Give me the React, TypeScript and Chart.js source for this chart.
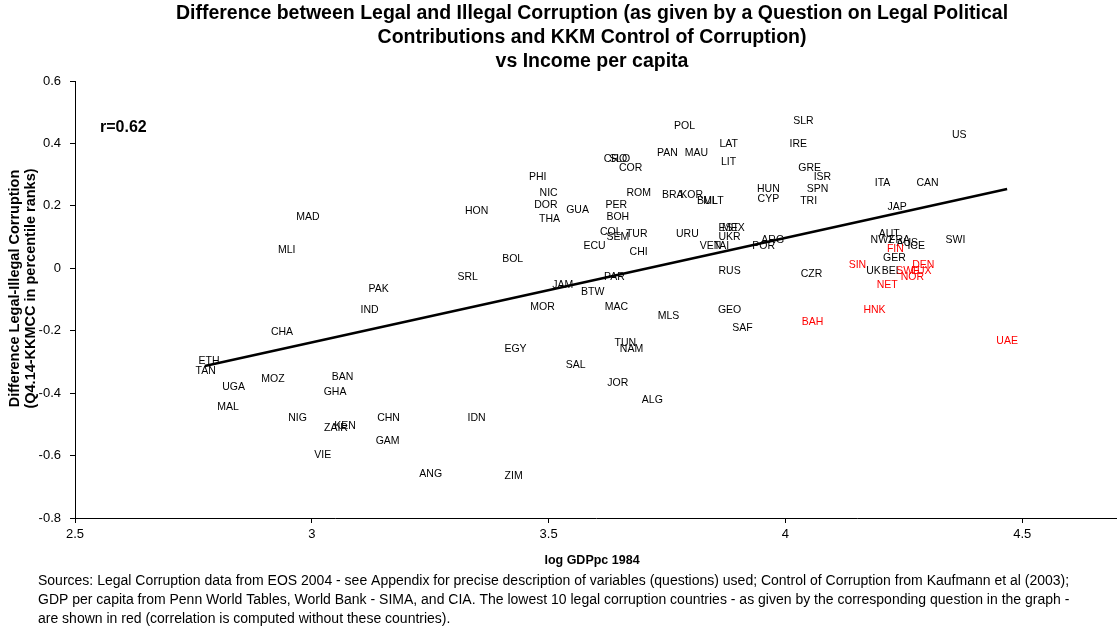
import React, { useEffect, useRef } from "react";
import { Chart, registerables } from "chart.js";

Chart.register(...registerables);

const FONT = "'Liberation Sans', Arial, sans-serif";

// Country codes, log GDP per capita 1984 (x) and Legal-Illegal difference (y)
const countryCodes = [
  "MAD", "MLI", "PHI", "NIC", "DOR", "THA", "HON", "BOL", "SRL", "PAK", "IND", "MOR",
  "POL", "SLR", "LAT", "IRE", "PAN", "MAU", "LIT", "CRO", "SLO", "COR", "GRE", "ISR",
  "HUN", "SPN", "CYP", "TRI", "ROM", "BRA", "KOR", "BUL", "MLT", "EST", "MEX", "PER",
  "GUA", "BOH", "COL", "SEM", "TUR", "URU", "UKR", "ECU", "VEN", "TAI", "CHI", "ARG",
  "POR", "RUS", "CZR", "PAR", "JAM", "BTW", "US", "ITA", "CAN", "JAP", "AUT", "NWZ",
  "FRA", "AUS", "ICE", "SWI", "FIN", "GER", "SIN", "DEN", "UK", "BEL", "SWE", "LUX",
  "NOR", "NET", "HNK", "BAH", "UAE", "ETH", "TAN", "CHA", "EGY", "UGA", "MOZ", "BAN",
  "GHA", "MAL", "NIG", "ZAIR", "KEN", "CHN", "IDN", "GAM", "VIE", "ANG", "ZIM", "MAC",
  "MLS", "GEO", "SAF", "TUN", "NAM", "SAL", "JOR", "ALG",
];

const logGdpPc = [
  2.992, 2.947, 3.477, 3.5, 3.494, 3.502, 3.348, 3.424, 3.329, 3.141, 3.122, 3.487,
  3.787, 4.038, 3.88, 4.027, 3.751, 3.812, 3.88, 3.641, 3.65, 3.673, 4.051, 4.078,
  3.964, 4.068, 3.964, 4.049, 3.69, 3.762, 3.802, 3.835, 3.848, 3.88, 3.89, 3.643,
  3.561, 3.646, 3.631, 3.646, 3.686, 3.793, 3.882, 3.597, 3.842, 3.865, 3.69, 3.973,
  3.954, 3.882, 4.055, 3.639, 3.53, 3.593, 4.367, 4.205, 4.3, 4.236, 4.219, 4.205,
  4.241, 4.257, 4.276, 4.359, 4.232, 4.23, 4.152, 4.291, 4.186, 4.224, 4.259, 4.287,
  4.268, 4.215, 4.188, 4.057, 4.468, 2.783, 2.776, 2.937, 3.43, 2.835, 2.918, 3.065,
  3.049, 2.823, 2.97, 3.051, 3.07, 3.162, 3.348, 3.16, 3.023, 3.251, 3.426, 3.643,
  3.753, 3.882, 3.909, 3.662, 3.675, 3.557, 3.646, 3.719,
];

const legalMinusIllegal = [
  0.164, 0.059, 0.293, 0.241, 0.203, 0.158, 0.184, 0.03, -0.028, -0.066, -0.134, -0.124,
  0.456, 0.472, 0.398, 0.398, 0.369, 0.369, 0.341, 0.35, 0.35, 0.321, 0.321, 0.293,
  0.254, 0.254, 0.222, 0.216, 0.241, 0.235, 0.235, 0.216, 0.216, 0.129, 0.129, 0.203,
  0.187, 0.164, 0.116, 0.1, 0.11, 0.11, 0.1, 0.071, 0.071, 0.071, 0.052, 0.091,
  0.071, -0.009, -0.018, -0.028, -0.054, -0.076, 0.427, 0.273, 0.273, 0.196, 0.11, 0.091,
  0.091, 0.081, 0.071, 0.091, 0.062, 0.033, 0.011, 0.011, -0.009, -0.009, -0.009, -0.009,
  -0.028, -0.054, -0.134, -0.172, -0.233, -0.297, -0.329, -0.204, -0.259, -0.38, -0.355, -0.348,
  -0.396, -0.444, -0.48, -0.512, -0.505, -0.48, -0.48, -0.553, -0.598, -0.659, -0.665, -0.124,
  -0.153, -0.134, -0.191, -0.239, -0.259, -0.31, -0.368, -0.422,
];

// The lowest 10 legal corruption countries (shown in red)
const lowestLegalCorruption = ["SIN", "FIN", "DEN", "SWE", "LUX", "NOR", "NET", "HNK", "BAH", "UAE"];

// Fitted regression line end points
const fitLineX = [2.774, 4.468];
const fitLineY = [-0.313, 0.254];

const xTickValues = [2.5, 3, 3.5, 4, 4.5];
const yTickValues = [-0.8, -0.6, -0.4, -0.2, 0, 0.2, 0.4, 0.6];

const titleLines = [
  "Difference between Legal and Illegal Corruption (as given by a Question on Legal Political",
  "Contributions and KKM Control of Corruption)",
  "vs Income per capita",
];
const yTitleLines = [
  "Difference Legal-Illegal Corruption",
  "(Q4.14-KKMCC in percentile ranks)",
];
const xTitle = "log GDPpc 1984";
const correlationLabel = "r=0.62";
const footnoteLines = [
  "Sources: Legal Corruption data from EOS 2004 - see Appendix for precise description of variables (questions) used; Control of Corruption from Kaufmann et al (2003);",
  "GDP per capita from Penn World Tables, World Bank - SIMA, and CIA. The lowest 10 legal corruption countries - as given by the corresponding question in the graph -",
  "are shown in red (correlation is computed without these countries).",
];

const textPlugin = {
  id: "chartTexts",
  beforeDatasetsDraw(chart: any) {
    const ctx = chart.ctx;
    const meta = chart.getDatasetMeta(0);
    ctx.save();
    ctx.font = `10.5px ${FONT}`;
    ctx.textAlign = "center";
    ctx.textBaseline = "middle";
    meta.data.forEach((el: any, i: number) => {
      const code = countryCodes[i];
      ctx.fillStyle = lowestLegalCorruption.includes(code) ? "#ff0000" : "#000000";
      ctx.fillText(code, el.x, el.y);
    });
    ctx.restore();
  },
  afterDraw(chart: any) {
    const ctx = chart.ctx;
    const area = chart.chartArea;
    ctx.save();
    ctx.fillStyle = "#000";
    // Title
    ctx.font = `bold 19.5px ${FONT}`;
    ctx.textAlign = "center";
    ctx.textBaseline = "middle";
    titleLines.forEach((t, i) => ctx.fillText(t, 592, 14 + i * 24));
    // r label
    ctx.font = `bold 16px ${FONT}`;
    ctx.textAlign = "left";
    ctx.fillText(correlationLabel, 100, 128);
    // x title
    ctx.font = `bold 12.5px ${FONT}`;
    ctx.textAlign = "center";
    ctx.fillText(xTitle, 592, 561);
    // y title
    ctx.save();
    ctx.translate(0, (area.top + area.bottom) / 2 - 11);
    ctx.rotate(-Math.PI / 2);
    ctx.font = `bold 14.5px ${FONT}`;
    ctx.fillText(yTitleLines[0], 0, 15);
    ctx.fillText(yTitleLines[1], 0, 31);
    ctx.restore();
    // footnote
    ctx.font = `14px ${FONT}`;
    ctx.textAlign = "left";
    footnoteLines.forEach((t, i) => ctx.fillText(t, 38, 581 + i * 19));
    ctx.restore();
  },
};

export default function App() {
  const canvasRef = useRef<HTMLCanvasElement | null>(null);

  useEffect(() => {
    if (!canvasRef.current) return;
    const points = countryCodes.map((_, i) => ({ x: logGdpPc[i], y: legalMinusIllegal[i] }));
    const linePts = fitLineX.map((x, i) => ({ x, y: fitLineY[i] }));
    const chart = new Chart(canvasRef.current, {
      type: "scatter",
      data: {
        datasets: [
          {
            label: "Countries",
            data: points,
            pointRadius: 0,
            pointHoverRadius: 0,
            showLine: false,
          },
          {
            label: "Fit",
            data: linePts,
            showLine: true,
            borderColor: "#000",
            borderWidth: 2.5,
            pointRadius: 0,
            pointHoverRadius: 0,
          },
        ],
      },
      options: {
        animation: false,
        responsive: false,
        devicePixelRatio: 1,
        events: [],
        layout: { padding: { top: 81, left: 0, right: 0, bottom: 0 } },
        plugins: {
          legend: { display: false },
          tooltip: { enabled: false },
          title: { display: false },
        },
        scales: {
          x: {
            type: "linear",
            min: 2.5,
            max: 4.7,
            afterFit: (scale: any) => {
              scale.height = 112;
            },
            afterBuildTicks: (scale: any) => {
              scale.ticks = xTickValues.map((v) => ({ value: v }));
            },
            ticks: {
              color: "#000",
              font: { family: FONT, size: 13 },
              padding: 4,
              maxRotation: 0,
              callback: (v: any) => String(Number(Number(v).toFixed(1))),
            },
            grid: {
              display: true,
              drawOnChartArea: false,
              drawTicks: true,
              tickLength: 5,
              color: "#000",
            },
            border: { display: true, color: "#000", width: 1 },
          },
          y: {
            type: "linear",
            min: -0.8,
            max: 0.6,
            afterFit: (scale: any) => {
              scale.width = 75;
            },
            afterBuildTicks: (scale: any) => {
              scale.ticks = yTickValues.map((v) => ({ value: v }));
            },
            ticks: {
              color: "#000",
              font: { family: FONT, size: 13 },
              padding: 9,
              callback: (v: any) => String(Number(Number(v).toFixed(1))),
            },
            grid: {
              display: true,
              drawOnChartArea: false,
              drawTicks: true,
              tickLength: 5,
              color: "#000",
            },
            border: { display: true, color: "#000", width: 1 },
          },
        },
      },
      plugins: [textPlugin],
    });
    return () => chart.destroy();
  }, []);

  return (
    <div style={{ position: "fixed", left: 0, top: 0, width: 1117, height: 630, background: "#fff" }}>
      <canvas ref={canvasRef} width={1117} height={630} style={{ width: 1117, height: 630, display: "block" }} />
    </div>
  );
}
